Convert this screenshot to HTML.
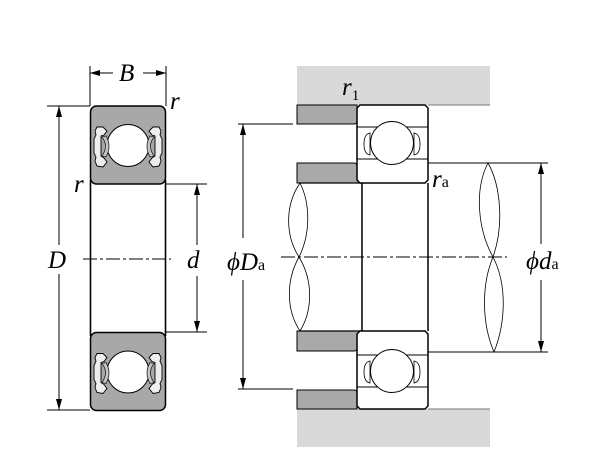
<!DOCTYPE html>
<html><head><meta charset="utf-8"><style>
html,body{margin:0;padding:0;background:#fff;}
svg{display:block;}
text,tspan{font-family:"Liberation Serif","Times New Roman",serif;fill:#000;}
.it{font-style:italic;}
</style></head><body>
<svg width="600" height="475" viewBox="0 0 600 475" xmlns="http://www.w3.org/2000/svg" font-family="Liberation Serif, serif">
<defs>
<g id="seal">
 <path d="M97,127 L103,127 L107,131 L104,135 L101,136 L101,156 L104,158 L107,162 L103,167 L97,166 L95,161 L96,157 L94,153 L94,139 L96,135 L95,131 Z" fill="#eeeeee" stroke="#000" stroke-width="0.9"/>
 <path d="M102,137 Q109,146 102,156 L106,157 Q112,146 106,136 Z" fill="#c4c4c4" stroke="#222" stroke-width="0.8"/>
</g>
<g id="cage">
 <path d="M370,133 Q364,134 364,144 Q364,154 370,155 Z" fill="#fff" stroke="#000" stroke-width="0.8"/>
 <path d="M414,133 Q420,134 420,144 Q420,154 414,155 Z" fill="#fff" stroke="#000" stroke-width="0.8"/>
</g>
</defs>

<!-- ============ LEFT BEARING ============ -->
<line x1="90" y1="66" x2="90" y2="106" stroke="#000" stroke-width="1"/>
<line x1="166" y1="66" x2="166" y2="106" stroke="#000" stroke-width="1"/>
<line x1="90" y1="73" x2="113" y2="73" stroke="#000" stroke-width="1"/>
<line x1="143" y1="73" x2="166" y2="73" stroke="#000" stroke-width="1"/>
<polygon points="90,73 100,70 100,76" fill="#000"/>
<polygon points="166,73 156,70 156,76" fill="#000"/>
<text class="it" x="119" y="81" font-size="25" font-style="italic">B</text>

<line x1="47" y1="106" x2="90" y2="106" stroke="#000" stroke-width="1"/>
<line x1="47" y1="410" x2="90" y2="410" stroke="#000" stroke-width="1"/>
<line x1="59" y1="106" x2="59" y2="245" stroke="#000" stroke-width="1"/>
<line x1="59" y1="274" x2="59" y2="410" stroke="#000" stroke-width="1"/>
<polygon points="59,106 56,117 62,117" fill="#000"/>
<polygon points="59,410 56,399 62,399" fill="#000"/>
<text class="it" x="48" y="268" font-size="25" font-style="italic">D</text>

<line x1="166" y1="184" x2="207" y2="184" stroke="#000" stroke-width="1"/>
<line x1="166" y1="332" x2="207" y2="332" stroke="#000" stroke-width="1"/>
<line x1="197" y1="184" x2="197" y2="245" stroke="#000" stroke-width="1"/>
<line x1="197" y1="276" x2="197" y2="332" stroke="#000" stroke-width="1"/>
<polygon points="197,184 194,195 200,195" fill="#000"/>
<polygon points="197,332 194,321 200,321" fill="#000"/>
<text class="it" x="187" y="268" font-size="25" font-style="italic">d</text>

<line x1="90.5" y1="180" x2="90.5" y2="336" stroke="#000" stroke-width="1.6"/>
<line x1="165.5" y1="180" x2="165.5" y2="336" stroke="#000" stroke-width="1.6"/>
<rect x="90.5" y="106" width="75" height="78" rx="6" fill="#a8a8a8" stroke="#000" stroke-width="1.5"/>
<rect x="90.5" y="332.5" width="75" height="78" rx="6" fill="#a8a8a8" stroke="#000" stroke-width="1.5"/>
<circle cx="128" cy="145.5" r="21" fill="#fff" stroke="#000" stroke-width="1"/>
<circle cx="128" cy="372" r="21" fill="#fff" stroke="#000" stroke-width="1"/>
<use href="#seal"/>
<use href="#seal" transform="translate(256,0) scale(-1,1)"/>
<use href="#seal" transform="translate(0,226.5)"/>
<use href="#seal" transform="translate(256,226.5) scale(-1,1)"/>

<line x1="83" y1="259" x2="171" y2="259" stroke="#000" stroke-width="0.9" stroke-dasharray="14 3 3 3"/>

<text class="it" x="170" y="109" font-size="25" font-style="italic">r</text>
<text class="it" x="74" y="192" font-size="25" font-style="italic">r</text>

<!-- ============ RIGHT ASSEMBLY ============ -->
<rect x="297" y="66" width="193" height="39" fill="#d9d9d9"/>
<rect x="297" y="409" width="193" height="38" fill="#d9d9d9"/>
<line x1="428" y1="105" x2="490" y2="105" stroke="#777" stroke-width="1"/>
<line x1="428" y1="409" x2="490" y2="409" stroke="#777" stroke-width="1"/>

<path d="M297,105 L357,105 L357,121 Q357,124 354,124 L297,124 Z" fill="#a9a9a9" stroke="#000" stroke-width="1"/>
<path d="M297,163 L354,163 Q357,163 357,166 L357,180 L360,183 L297,183 Z" fill="#a9a9a9" stroke="#000" stroke-width="1"/>
<path d="M297,351 L354,351 Q357,351 357,348 L357,334 L360,331 L297,331 Z" fill="#a9a9a9" stroke="#000" stroke-width="1"/>
<path d="M297,409 L357,409 L357,393 Q357,390 354,390 L297,390 Z" fill="#a9a9a9" stroke="#000" stroke-width="1"/>

<line x1="299" y1="183" x2="362" y2="183" stroke="#000" stroke-width="1.2"/>
<line x1="299" y1="331" x2="362" y2="331" stroke="#000" stroke-width="1.2"/>
<path d="M300,183 C285,205 285,235 299,257 C313,280 313,310 300,331" fill="none" stroke="#000" stroke-width="0.8"/>
<path d="M300,183 C311,205 310,235 299,257 C286,280 286,310 300,331" fill="none" stroke="#000" stroke-width="0.8"/>

<line x1="428" y1="163" x2="548" y2="163" stroke="#000" stroke-width="1"/>
<line x1="428" y1="352" x2="548" y2="352" stroke="#000" stroke-width="1"/>
<path d="M488,163 C474,190 478,230 493,257 C507,284 506,322 494,352" fill="none" stroke="#000" stroke-width="0.8"/>
<path d="M488,163 C501,186 504,226 493,257 C481,286 482,324 494,352" fill="none" stroke="#000" stroke-width="0.8"/>

<line x1="362" y1="183" x2="362" y2="331" stroke="#000" stroke-width="1.5"/>
<line x1="428" y1="183" x2="428" y2="331" stroke="#000" stroke-width="1.5"/>

<path d="M360,105 L425,105 L428,108 L428,180 L425,183 L360,183 L357,180 L357,108 Z" fill="#fff" stroke="#000" stroke-width="1.5"/>
<line x1="357" y1="127" x2="428" y2="127" stroke="#000" stroke-width="1"/>
<line x1="357" y1="159" x2="428" y2="159" stroke="#000" stroke-width="1"/>
<use href="#cage"/>
<circle cx="392" cy="143" r="21.5" fill="#fff" stroke="#000" stroke-width="1"/>

<path d="M360,331 L425,331 L428,334 L428,406 L425,409 L360,409 L357,406 L357,334 Z" fill="#fff" stroke="#000" stroke-width="1.5"/>
<line x1="357" y1="355" x2="428" y2="355" stroke="#000" stroke-width="1"/>
<line x1="357" y1="387" x2="428" y2="387" stroke="#000" stroke-width="1"/>
<use href="#cage" transform="translate(0,228)"/>
<circle cx="392" cy="371" r="21.5" fill="#fff" stroke="#000" stroke-width="1"/>

<line x1="281" y1="257" x2="507" y2="257" stroke="#000" stroke-width="0.9" stroke-dasharray="14 3 3 3"/>

<line x1="238" y1="124" x2="293" y2="124" stroke="#000" stroke-width="1"/>
<line x1="238" y1="389" x2="293" y2="389" stroke="#000" stroke-width="1"/>
<line x1="243" y1="124" x2="243" y2="238" stroke="#000" stroke-width="1"/>
<line x1="243" y1="280" x2="243" y2="389" stroke="#000" stroke-width="1"/>
<polygon points="243,124 240,135 246,135" fill="#000"/>
<polygon points="243,389 240,378 246,378" fill="#000"/>
<text x="227" y="270" font-size="25"><tspan class="it" font-style="italic">ϕD</tspan><tspan font-size="16" font-style="normal">a</tspan></text>

<line x1="541" y1="163" x2="541" y2="244" stroke="#000" stroke-width="1"/>
<line x1="541" y1="280" x2="541" y2="352" stroke="#000" stroke-width="1"/>
<polygon points="541,163 538,174 544,174" fill="#000"/>
<polygon points="541,352 538,341 544,341" fill="#000"/>
<text x="526" y="269" font-size="25"><tspan class="it" font-style="italic">ϕd</tspan><tspan font-size="16" font-style="normal">a</tspan></text>

<text x="342" y="95" font-size="25"><tspan class="it" font-style="italic">r</tspan><tspan font-size="15" dy="5" font-style="normal">1</tspan></text>
<text x="432" y="187" font-size="25"><tspan class="it" font-style="italic">r</tspan><tspan font-size="16" font-style="normal">a</tspan></text>
</svg>
</body></html>
